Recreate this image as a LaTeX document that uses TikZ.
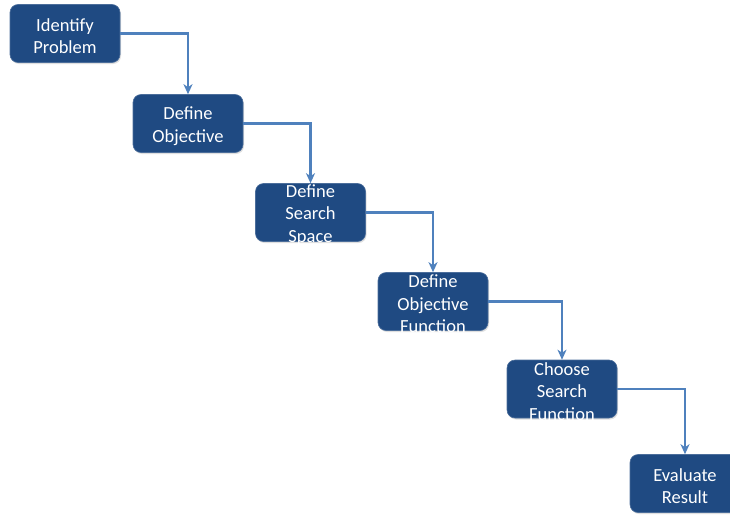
\documentclass[tikz,border=0pt]{standalone}
\usepackage{fontspec}
\setmainfont{Carlito}
\usetikzlibrary{arrows.meta,shadows}
\definecolor{boxblue}{HTML}{1F4A82}
\definecolor{linkblue}{HTML}{4F81BD}
\begin{document}
\begin{tikzpicture}[x=1pt,y=-1pt,
  stepbox/.style={draw=boxblue!80!white,line width=0.6pt,fill=boxblue,rounded corners=8pt,
    minimum width=110pt,minimum height=58pt,inner sep=0pt,
    drop shadow={opacity=0.25,shadow xshift=1pt,shadow yshift=-1.5pt},
    label={[steptext]center:{#1}}},
  steptext/.style={text=white,align=center,font=\fontsize{18.5}{22.5}\selectfont,
    inner sep=0pt,yshift=-2.5pt},
  link/.style={draw=linkblue,line width=2.4pt,-{Stealth[length=10pt,width=9pt,inset=3pt]}}]
\useasboundingbox (0,0) rectangle (730,514);
\node[stepbox={Identify\\Problem}] (a) at (65,33.5) {};
\node[stepbox={Define\\Objective}] (b) at (188,123.5) {};
\node[stepbox={Define\\Search\\Space}] (c) at (310.5,212.5) {};
\node[stepbox={Define\\Objective\\Function}] (d) at (433,301.5) {};
\node[stepbox={Choose\\Search\\Function}] (e) at (562,389) {};
\node[stepbox={Evaluate\\Result}] (f) at (685,483.5) {};
\draw[link] (a.east) -| (b.north);
\draw[link] (b.east) -| (c.north);
\draw[link] (c.east) -| (d.north);
\draw[link] (d.east) -| (e.north);
\draw[link] (e.east) -| (f.north);
\end{tikzpicture}
\end{document}
